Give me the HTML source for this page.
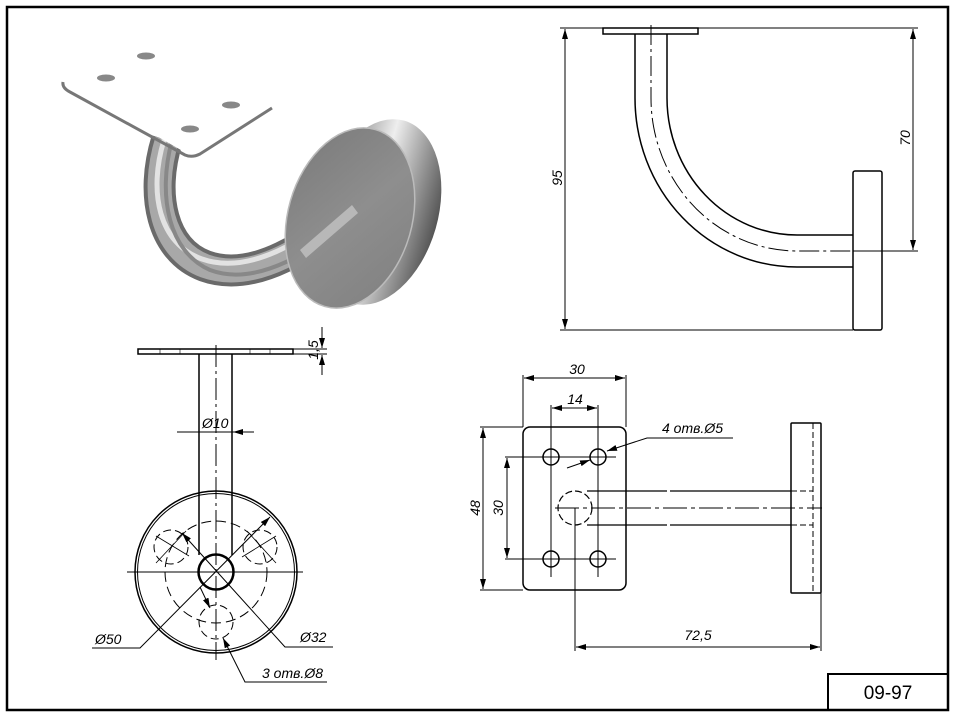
<!DOCTYPE html>
<html><head><meta charset="utf-8"><style>
html,body{margin:0;padding:0;background:#fff;}
svg{display:block;}
text{font-family:"Liberation Sans",sans-serif;font-style:italic;font-size:14px;fill:#000;}
</style></head><body>
<svg width="957" height="719" viewBox="0 0 957 719" xmlns="http://www.w3.org/2000/svg">
<defs>
<marker id="a" viewBox="0 0 10 6" refX="10" refY="3" markerWidth="10" markerHeight="6" orient="auto-start-reverse" markerUnits="userSpaceOnUse"><path d="M0,0 L10,3 L0,6 z" fill="#000"/></marker>
<linearGradient id="rim" x1="0" y1="0" x2="1" y2="0"><stop offset="0" stop-color="#777"/><stop offset="0.45" stop-color="#eee"/><stop offset="0.75" stop-color="#999"/><stop offset="1" stop-color="#555"/></linearGradient>
<linearGradient id="face" x1="0" y1="0" x2="1" y2="1"><stop offset="0" stop-color="#7a7a7a"/><stop offset="0.5" stop-color="#8e8e8e"/><stop offset="1" stop-color="#808080"/></linearGradient>
</defs>
<rect x="7" y="7" width="941" height="703" fill="none" stroke="#000" stroke-width="2.5"/>
<path d="M828,710 V674 H948" fill="none" stroke="#000" stroke-width="2"/>
<text x="888" y="699" text-anchor="middle" style="font-style:normal;font-size:19px">09-97</text>

<!-- 3D render -->
<g>
<ellipse cx="378" cy="212" rx="60" ry="95" transform="rotate(16 378 212)" fill="url(#rim)"/>
<path d="M167,140 C150,195 162,250 205,266 C255,284 310,245 360,205" fill="none" stroke="#6a6a6a" stroke-width="32"/>
<path d="M167,140 C150,195 162,250 205,266 C255,284 310,245 360,205" fill="none" stroke="#a8a8a8" stroke-width="24"/>
<path d="M164,140 C148,192 159,244 202,259 C250,276 305,240 356,200" fill="none" stroke="#e2e2e2" stroke-width="5"/>
<path d="M172,140 C157,197 169,252 210,270 C258,288 314,250 362,212" fill="none" stroke="#888" stroke-width="4"/>
<ellipse cx="350" cy="218" rx="62" ry="92" transform="rotate(16 350 218)" fill="url(#face)" stroke="#bbb" stroke-width="1.5"/>
<path d="M300,250 L352,205 L358,213 L306,258 z" fill="#b8b8b8"/>
<path d="M63,82 L150,40 L274,105 L193,157 z" fill="#fff"/>
<path d="M63,82 Q62,88 70,92 L185,155 Q192,158 200,154 L272,108" fill="none" stroke="#777" stroke-width="3"/>
<ellipse cx="146" cy="56" rx="9" ry="3.5" fill="#888"/>
<ellipse cx="106" cy="78" rx="9" ry="3.5" fill="#888"/>
<ellipse cx="231" cy="105" rx="9" ry="3.5" fill="#888"/>
<ellipse cx="190" cy="129" rx="9" ry="3.5" fill="#888"/>
</g>

<!-- Top right side view -->
<g fill="none" stroke="#000" stroke-width="1.5">
<rect x="603" y="28" width="95" height="6"/>
<path d="M635,34 V98 A162,169 0 0 0 797,267 H853"/>
<path d="M667,34 V98 A130,137 0 0 0 797,235 H853"/>
<rect x="853" y="171" width="29" height="159" rx="2"/>
</g>
<g fill="none" stroke="#000" stroke-width="1">
<path d="M651,25 V98 A146,153 0 0 0 797,251 H853" stroke-dasharray="20,4,3,4"/>
<path d="M560,28 H918 M560,330 H853 M853,251 H918"/>
<path d="M565,29 V329" marker-start="url(#a)" marker-end="url(#a)"/>
<path d="M913,29 V250" marker-start="url(#a)" marker-end="url(#a)"/>
</g>
<text transform="translate(562,178) rotate(-90)" text-anchor="middle">95</text>
<text transform="translate(910,138) rotate(-90)" text-anchor="middle">70</text>

<!-- Bottom left view -->
<g fill="none" stroke="#000">
<rect x="138" y="349" width="155" height="5" stroke-width="1.5"/>
<path d="M160,349 v5 M180,349 v5 M250,349 v5 M270,349 v5" stroke-width="0.6"/>
<path d="M199,354 V555 M232,354 V555" stroke-width="1.5"/>
<circle cx="216" cy="572" r="81" stroke-width="1.5"/>
<circle cx="216" cy="572" r="78.5" stroke-width="1"/>
<circle cx="216" cy="572" r="51" stroke-width="1" stroke-dasharray="10,5"/>
<circle cx="216" cy="572" r="17.5" stroke-width="2.5"/>
<circle cx="171" cy="547" r="17" stroke-width="1" stroke-dasharray="8,4"/>
<circle cx="260" cy="547" r="17" stroke-width="1" stroke-dasharray="8,4"/>
<circle cx="216" cy="622" r="17" stroke-width="1" stroke-dasharray="8,4"/>
<path d="M216,345 V660" stroke-width="1" stroke-dasharray="22,4,3,4"/>
<path d="M127,572 H303" stroke-width="1"/>
<path d="M156,536 L189,556 M242,557 L276,536 M186,531 L156,563 M247,531 L276,563" stroke-width="0.8"/>
<path d="M177,432 H198 M254,432 H233" stroke-width="1" marker-end="url(#a)"/>
<path d="M198,432 H233" stroke-width="1"/>
<path d="M293,349 H327 M293,354 H327" stroke-width="1"/>
<path d="M322,327 V348" stroke-width="1" marker-end="url(#a)"/>
<path d="M322,375 V355" stroke-width="1" marker-end="url(#a)"/>
<path d="M92,648 H140 L270,517" stroke-width="1" marker-end="url(#a)"/>
<path d="M333,647 H285 L182,533" stroke-width="1" marker-end="url(#a)"/>
<path d="M327,682 H245 L223,638" stroke-width="1" marker-end="url(#a)"/>
<path d="M200,587 L210,608" stroke-width="1" marker-end="url(#a)"/>
</g>
<text x="202" y="428">Ø10</text>
<text transform="translate(318,350) rotate(-90)" text-anchor="middle">1,5</text>
<text x="95" y="644">Ø50</text>
<text x="300" y="642">Ø32</text>
<text x="262" y="678">3 отв.Ø8</text>

<!-- Bottom right top view -->
<g fill="none" stroke="#000">
<rect x="523" y="427" width="103" height="163" rx="7" stroke-width="1.5"/>
<circle cx="551" cy="457" r="8" stroke-width="1.5"/>
<circle cx="598" cy="457" r="8" stroke-width="1.5"/>
<circle cx="551" cy="559" r="8" stroke-width="1.5"/>
<circle cx="598" cy="559" r="8" stroke-width="1.5"/>
<path d="M551,405 V577 M598,405 V577 M505,457 H616 M505,559 H616" stroke-width="1"/>
<circle cx="575" cy="508" r="17" stroke-width="1.2" stroke-dasharray="7,3"/>
<path d="M587,491 H791 M587,525 H791" stroke-width="1.3" stroke-dasharray="80,3,130,0"/>
<path d="M791,491 H813 M791,525 H813 M813,423 V593" stroke-width="1" stroke-dasharray="6,3"/>
<path d="M555,508 H822" stroke-width="1" stroke-dasharray="24,4,4,4"/>
<rect x="791" y="423" width="30" height="170" rx="1" stroke-width="1.5"/>
<path d="M523,375 V427 M626,375 V427" stroke-width="1"/>
<path d="M524,378 H625" stroke-width="1" marker-start="url(#a)" marker-end="url(#a)"/>
<path d="M552,408 H597" stroke-width="1" marker-start="url(#a)" marker-end="url(#a)"/>
<path d="M480,427 H523 M480,590 H523" stroke-width="1"/>
<path d="M483,428 V589" stroke-width="1" marker-start="url(#a)" marker-end="url(#a)"/>
<path d="M507,458 V558" stroke-width="1" marker-start="url(#a)" marker-end="url(#a)"/>
<path d="M575,508 V651 M821,593 V651" stroke-width="1"/>
<path d="M576,647 H820" stroke-width="1" marker-start="url(#a)" marker-end="url(#a)"/>
<path d="M733,438 H647 L607,451" stroke-width="1" marker-end="url(#a)"/>
<path d="M567,468 L590,460" stroke-width="1" marker-end="url(#a)"/>
</g>
<text x="577" y="374" text-anchor="middle">30</text>
<text x="575" y="404" text-anchor="middle">14</text>
<text transform="translate(480,508) rotate(-90)" text-anchor="middle">48</text>
<text transform="translate(503,508) rotate(-90)" text-anchor="middle">30</text>
<text x="698" y="640" text-anchor="middle">72,5</text>
<text x="662" y="433">4 отв.Ø5</text>
</svg>
</body></html>
